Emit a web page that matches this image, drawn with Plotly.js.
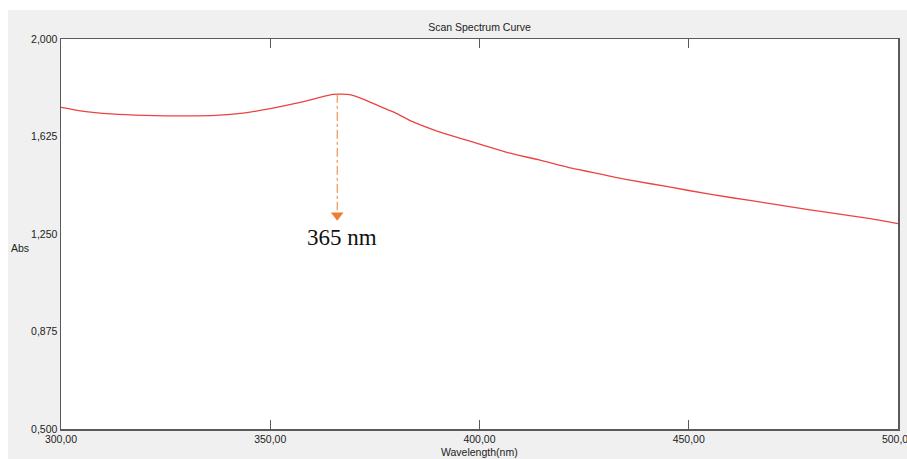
<!DOCTYPE html>
<html>
<head>
<meta charset="utf-8">
<script src="https://cdn.plot.ly/plotly-3.0.1.min.js"></script>
<style>
  html, body { margin: 0; padding: 0; background: #ffffff; width: 907px; height: 459px; overflow: hidden; }
  #chart { position: absolute; left: 8px; top: 10px; width: 899px; height: 449px; }
</style>
</head>
<body>
<div id="chart"></div>
<script>
// Data
const wavelength = [300, 305, 312, 320, 330, 337, 344, 350, 356, 361, 365, 369, 372, 376, 380, 384, 390, 395, 400, 407, 414, 422, 429, 436, 445, 455, 465, 474, 484, 493, 500];
const absorbance = [1.737, 1.723, 1.712, 1.706, 1.704, 1.706, 1.716, 1.732, 1.752, 1.772, 1.787, 1.786, 1.770, 1.742, 1.715, 1.682, 1.645, 1.620, 1.596, 1.562, 1.536, 1.503, 1.480, 1.457, 1.432, 1.403, 1.378, 1.355, 1.331, 1.310, 1.290];

const xTickVals = [300, 350, 400, 450, 500];
const xTickText = ["300,00", "350,00", "400,00", "450,00", "500,00"];
const yTickVals = [0.5, 0.875, 1.25, 1.625, 2.0];
const yTickText = ["0,500", "0,875", "1,250", "1,625", "2,000"];

const peakWavelength = 366;
const peakAbs = 1.789;
const arrowTipAbs = 1.322;
const peakLabel = "365 nm";

const chartTitle = "Scan Spectrum Curve";
const xTitle = "Wavelength(nm)";
const yTitle = "Abs";

const uiFont = "Liberation Sans Narrow, Arial Narrow, Liberation Sans, Arial, sans-serif";
const axisColor = "#5a5a5a";

const traces = [
  {
    x: wavelength,
    y: absorbance,
    type: "scatter",
    mode: "lines",
    line: { color: "#ea4442", width: 1.3, shape: "spline", smoothing: 0.6 },
    hoverinfo: "x+y"
  },
  {
    x: [peakWavelength],
    y: [arrowTipAbs],
    type: "scatter",
    mode: "markers",
    marker: { symbol: "triangle-down", size: 11, color: "#ed7d31" },
    hoverinfo: "skip"
  }
];

const layout = {
  width: 899,
  height: 449,
  margin: { l: 53, r: 9, t: 29, b: 30 },
  paper_bgcolor: "#f0f0f0",
  plot_bgcolor: "#ffffff",
  showlegend: false,
  title: {
    text: chartTitle,
    font: { family: uiFont, size: 10.5, color: "#222" },
    x: 0.5, xref: "paper",
    y: 1 - 17 / 449, yref: "container", yanchor: "middle"
  },
  xaxis: {
    range: [300, 500],
    tickvals: xTickVals,
    ticktext: xTickText,
    ticks: "inside",
    ticklen: 9,
    tickwidth: 1,
    tickcolor: axisColor,
    showline: true,
    linecolor: axisColor,
    linewidth: 1.5,
    mirror: "ticks",
    showgrid: false,
    zeroline: false,
    ticklabeloverflow: "allow",
    tickfont: { family: uiFont, size: 10.5, color: "#222" },
    title: { text: "" }
  },
  yaxis: {
    range: [0.5, 2.0],
    tickvals: yTickVals,
    ticktext: yTickText,
    ticks: "",
    showline: true,
    linecolor: axisColor,
    linewidth: 1.5,
    mirror: true,
    showgrid: false,
    zeroline: false,
    tickfont: { family: uiFont, size: 10.5, color: "#222" },
    title: { text: "" }
  },
  shapes: [
    {
      type: "line",
      xref: "x", yref: "y",
      x0: peakWavelength, x1: peakWavelength,
      y0: peakAbs, y1: arrowTipAbs + 0.02,
      line: { color: "#ed7d31", width: 1, dash: "dashdot" }
    }
  ],
  annotations: [
    {
      text: peakLabel,
      xref: "x", yref: "y",
      x: peakWavelength, y: 1.238,
      xshift: 5,
      showarrow: false,
      font: { family: "Liberation Serif, Times New Roman, serif", size: 23, color: "#111" },
      xanchor: "center", yanchor: "middle"
    },
    {
      text: xTitle,
      xref: "paper", yref: "paper",
      x: 0.5, y: -(452 - 429) / 390,
      showarrow: false,
      font: { family: uiFont, size: 10.5, color: "#222" },
      xanchor: "center", yanchor: "middle"
    },
    {
      text: yTitle,
      xref: "paper", yref: "paper",
      x: (20 - 61) / 837, y: (429 - 248) / 390,
      showarrow: false,
      font: { family: uiFont, size: 10.5, color: "#222" },
      xanchor: "center", yanchor: "middle"
    }
  ]
};

Plotly.newPlot("chart", traces, layout, { displayModeBar: false, staticPlot: true });
</script>
</body>
</html>
